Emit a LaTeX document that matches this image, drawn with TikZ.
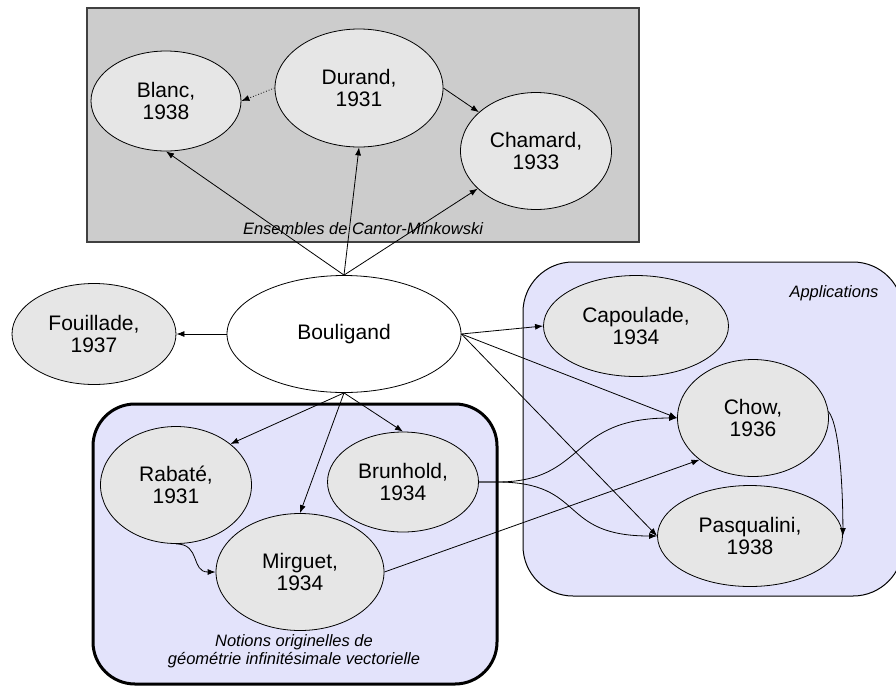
\documentclass[tikz,border=0pt]{standalone}
\usepackage{fontspec}
\setmainfont{Liberation Sans}
\usetikzlibrary{shapes.geometric,arrows.meta}
\definecolor{setgray}{RGB}{204,204,204}
\definecolor{nodegray}{RGB}{230,230,230}
\definecolor{lavender}{RGB}{227,227,251}
\tikzset{
  author/.style={ellipse, draw, line width=0.8pt, fill=nodegray, inner sep=0pt, align=center, font=\fontsize{21}{22.5}\selectfont},
  link/.style={-{Latex[length=8pt,width=6pt]}, line width=0.8pt},
  grouplabel/.style={font=\fontsize{16.5}{18}\selectfont\itshape, align=center},
}
\begin{document}
\begin{tikzpicture}[x=1pt,y=-1pt]
    \useasboundingbox (0,0) rectangle (896,686);
    % groupes
    \draw[fill=setgray, draw=black!75, line width=1.2pt] (87,8) rectangle (639,242);
    \draw[fill=lavender, line width=1pt, rounded corners=50pt] (523,262) rectangle (903,596);
    \draw[fill=lavender, line width=3pt, rounded corners=42pt] (93,404) rectangle (497,684);
    \node[grouplabel] (ensembles) at (363,229) {Ensembles de Cantor-Minkowski};
    \node[grouplabel, anchor=east] (applications) at (882,293) {Applications};
    \node[grouplabel] (notions) at (294,651) {Notions originelles de\\g\'eom\'etrie infinit\'esimale vectorielle};
    % auteurs
    \node[author, minimum width=150pt, minimum height=100pt] (blanc) at (166,101) {Blanc,\\1938};
    \node[author, minimum width=168pt, minimum height=118pt] (durand) at (359,88) {Durand,\\1931};
    \node[author, minimum width=151pt, minimum height=117pt] (chamard) at (536,151) {Chamard,\\1933};
    \node[author, fill=white, minimum width=234pt, minimum height=117pt] (bouligand) at (344,334) {Bouligand};
    \node[author, minimum width=164pt, minimum height=101pt] (fouillade) at (94,334) {Fouillade,\\1937};
    \node[author, minimum width=151pt, minimum height=117pt] (rabate) at (176,485) {Rabat\'e,\\1931};
    \node[author, minimum width=151pt, minimum height=100pt] (brunhold) at (403,482) {Brunhold,\\1934};
    \node[author, minimum width=168pt, minimum height=117pt] (mirguet) at (300,572) {Mirguet,\\1934};
    \node[author, minimum width=185pt, minimum height=101pt] (capoulade) at (636,326) {Capoulade,\\1934};
    \node[author, minimum width=151pt, minimum height=117pt] (chow) at (753,418) {Chow,\\1936};
    \node[author, minimum width=185pt, minimum height=101pt] (pasqualini) at (750,536) {Pasqualini,\\1938};
    % liens
    \draw[link] (bouligand.north) -- (blanc.south);
    \draw[link] (bouligand.north) -- (durand.south);
    \draw[link] (bouligand.north) -- (chamard);
    \draw[link, dotted] (durand.west) -- (blanc.east);
    \draw[link] (durand.east) -- (chamard);
    \draw[link] (bouligand.west) -- (fouillade.east);
    \draw[link] (bouligand.east) -- (capoulade.west);
    \draw[link] (bouligand.east) -- (chow.west);
    \draw[link] (bouligand.east) -- (pasqualini.west);
    \draw[link] (bouligand.south) -- (rabate.37);
    \draw[link] (bouligand.south) -- (mirguet.north);
    \draw[link] (bouligand.south) -- (brunhold.north);
    \draw[link] (rabate.south) .. controls +(25,0) and +(-25,0) .. (mirguet.west);
    \draw[link] (brunhold.east) -- +(18,0) .. controls +(90,0) and +(-110,0) .. (chow.west);
    \draw[link] (brunhold.east) -- +(18,0) .. controls +(90,0) and +(-100,0) .. (pasqualini.west);
    \draw[link] (mirguet.east) -- (chow.218);
    \draw[link] (chow.5) .. controls +(12,15) and +(0,-40) .. (pasqualini.east);
\end{tikzpicture}
\end{document}
